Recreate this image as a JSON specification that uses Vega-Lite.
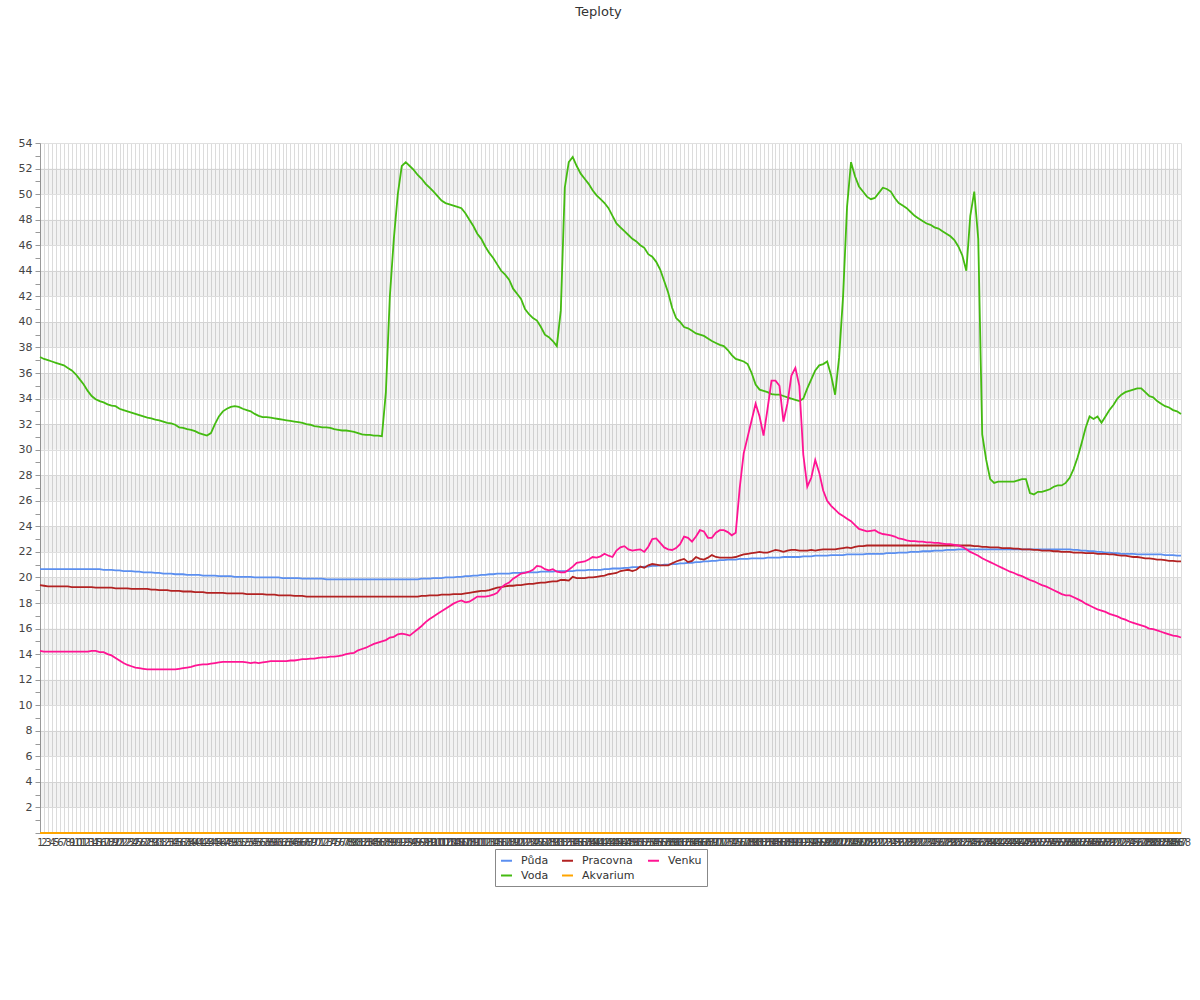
{
"$schema":"https://vega.github.io/schema/vega-lite/v6.json",
"width":1141,"height":690,
"autosize":{"type":"none"},
"padding":{"left":40,"top":143,"right":19,"bottom":167},
"background":"white",
"title":{"text":"Teploty","fontSize":13,"fontWeight":"normal","font":"DejaVu Sans","color":"#333","anchor":"middle","offset":118,"dx":-12},
"config":{"view":{"stroke":null}},
"layer":[
{"data":{"values":[{"hodnota":2,"h2":4},{"hodnota":6,"h2":8},{"hodnota":10,"h2":12},{"hodnota":14,"h2":16},{"hodnota":18,"h2":20},{"hodnota":22,"h2":24},{"hodnota":26,"h2":28},{"hodnota":30,"h2":32},{"hodnota":34,"h2":36},{"hodnota":38,"h2":40},{"hodnota":42,"h2":44},{"hodnota":46,"h2":48},{"hodnota":50,"h2":52}]},
"mark":{"type":"rect","fill":"#000","opacity":0.05},
"encoding":{"y":{"field":"hodnota","type":"quantitative","scale":{"domain":[0,54],"nice":false,"zero":true},
"axis":{"title":null,"values":[0,1,2,3,4,5,6,7,8,9,10,11,12,13,14,15,16,17,18,19,20,21,22,23,24,25,26,27,28,29,30,31,32,33,34,35,36,37,38,39,40,41,42,43,44,45,46,47,48,49,50,51,52,53,54],"labelExpr":"datum.value % 2 == 0 && datum.value > 0 ? datum.label : ''","labelOverlap":false,"labelFontSize":11,"labelFont":"DejaVu Sans","labelColor":"#444","labelPadding":3,"tickSize":5,"tickColor":"#999","domainColor":"#999","grid":true,"gridColor":"#e0e0e0","gridOpacity":{"condition":{"test":"datum.value % 2 == 1","value":0},"value":1}}},"y2":{"field":"h2"}}},
{"data":{"values":[
{"t":1,"Půda":20.65,"Voda":37.25,"Pracovna":19.4,"Akvarium":0,"Venku":14.25},
{"t":2,"Půda":20.65,"Voda":37.1,"Pracovna":19.35,"Akvarium":0,"Venku":14.2},
{"t":3,"Půda":20.65,"Voda":37.0,"Pracovna":19.3,"Akvarium":0,"Venku":14.2},
{"t":4,"Půda":20.65,"Voda":36.9,"Pracovna":19.3,"Akvarium":0,"Venku":14.2},
{"t":5,"Půda":20.65,"Voda":36.8,"Pracovna":19.3,"Akvarium":0,"Venku":14.2},
{"t":6,"Půda":20.65,"Voda":36.7,"Pracovna":19.3,"Akvarium":0,"Venku":14.2},
{"t":7,"Půda":20.65,"Voda":36.6,"Pracovna":19.3,"Akvarium":0,"Venku":14.2},
{"t":8,"Půda":20.65,"Voda":36.4,"Pracovna":19.3,"Akvarium":0,"Venku":14.2},
{"t":9,"Půda":20.65,"Voda":36.2,"Pracovna":19.25,"Akvarium":0,"Venku":14.2},
{"t":10,"Půda":20.65,"Voda":35.9,"Pracovna":19.25,"Akvarium":0,"Venku":14.2},
{"t":11,"Půda":20.65,"Voda":35.5,"Pracovna":19.25,"Akvarium":0,"Venku":14.2},
{"t":12,"Půda":20.65,"Voda":35.1,"Pracovna":19.25,"Akvarium":0,"Venku":14.2},
{"t":13,"Půda":20.65,"Voda":34.6,"Pracovna":19.25,"Akvarium":0,"Venku":14.2},
{"t":14,"Půda":20.65,"Voda":34.2,"Pracovna":19.25,"Akvarium":0,"Venku":14.25},
{"t":15,"Půda":20.65,"Voda":33.95,"Pracovna":19.2,"Akvarium":0,"Venku":14.25},
{"t":16,"Půda":20.65,"Voda":33.8,"Pracovna":19.2,"Akvarium":0,"Venku":14.15},
{"t":17,"Půda":20.6,"Voda":33.7,"Pracovna":19.2,"Akvarium":0,"Venku":14.15},
{"t":18,"Půda":20.6,"Voda":33.55,"Pracovna":19.2,"Akvarium":0,"Venku":14.0},
{"t":19,"Půda":20.6,"Voda":33.45,"Pracovna":19.2,"Akvarium":0,"Venku":13.9},
{"t":20,"Půda":20.55,"Voda":33.4,"Pracovna":19.15,"Akvarium":0,"Venku":13.7},
{"t":21,"Půda":20.55,"Voda":33.2,"Pracovna":19.15,"Akvarium":0,"Venku":13.5},
{"t":22,"Půda":20.5,"Voda":33.1,"Pracovna":19.15,"Akvarium":0,"Venku":13.3},
{"t":23,"Půda":20.5,"Voda":33.0,"Pracovna":19.15,"Akvarium":0,"Venku":13.15},
{"t":24,"Půda":20.5,"Voda":32.9,"Pracovna":19.1,"Akvarium":0,"Venku":13.05},
{"t":25,"Půda":20.45,"Voda":32.8,"Pracovna":19.1,"Akvarium":0,"Venku":12.95},
{"t":26,"Půda":20.45,"Voda":32.7,"Pracovna":19.1,"Akvarium":0,"Venku":12.9},
{"t":27,"Půda":20.4,"Voda":32.6,"Pracovna":19.1,"Akvarium":0,"Venku":12.85},
{"t":28,"Půda":20.4,"Voda":32.5,"Pracovna":19.1,"Akvarium":0,"Venku":12.8},
{"t":29,"Půda":20.4,"Voda":32.45,"Pracovna":19.05,"Akvarium":0,"Venku":12.8},
{"t":30,"Půda":20.35,"Voda":32.35,"Pracovna":19.05,"Akvarium":0,"Venku":12.8},
{"t":31,"Půda":20.35,"Voda":32.3,"Pracovna":19.0,"Akvarium":0,"Venku":12.8},
{"t":32,"Půda":20.3,"Voda":32.2,"Pracovna":19.0,"Akvarium":0,"Venku":12.8},
{"t":33,"Půda":20.3,"Voda":32.1,"Pracovna":19.0,"Akvarium":0,"Venku":12.8},
{"t":34,"Půda":20.3,"Voda":32.05,"Pracovna":18.95,"Akvarium":0,"Venku":12.8},
{"t":35,"Půda":20.25,"Voda":31.95,"Pracovna":18.95,"Akvarium":0,"Venku":12.8},
{"t":36,"Půda":20.25,"Voda":31.75,"Pracovna":18.95,"Akvarium":0,"Venku":12.85},
{"t":37,"Půda":20.25,"Voda":31.7,"Pracovna":18.9,"Akvarium":0,"Venku":12.9},
{"t":38,"Půda":20.2,"Voda":31.6,"Pracovna":18.9,"Akvarium":0,"Venku":12.95},
{"t":39,"Půda":20.2,"Voda":31.55,"Pracovna":18.9,"Akvarium":0,"Venku":13.0},
{"t":40,"Půda":20.2,"Voda":31.45,"Pracovna":18.85,"Akvarium":0,"Venku":13.1},
{"t":41,"Půda":20.2,"Voda":31.3,"Pracovna":18.85,"Akvarium":0,"Venku":13.15},
{"t":42,"Půda":20.15,"Voda":31.2,"Pracovna":18.85,"Akvarium":0,"Venku":13.2},
{"t":43,"Půda":20.15,"Voda":31.1,"Pracovna":18.8,"Akvarium":0,"Venku":13.2},
{"t":44,"Půda":20.15,"Voda":31.3,"Pracovna":18.8,"Akvarium":0,"Venku":13.25},
{"t":45,"Půda":20.15,"Voda":32.0,"Pracovna":18.8,"Akvarium":0,"Venku":13.3},
{"t":46,"Půda":20.1,"Voda":32.6,"Pracovna":18.8,"Akvarium":0,"Venku":13.35},
{"t":47,"Půda":20.1,"Voda":33.0,"Pracovna":18.8,"Akvarium":0,"Venku":13.4},
{"t":48,"Půda":20.1,"Voda":33.2,"Pracovna":18.75,"Akvarium":0,"Venku":13.4},
{"t":49,"Půda":20.1,"Voda":33.35,"Pracovna":18.75,"Akvarium":0,"Venku":13.4},
{"t":50,"Půda":20.05,"Voda":33.4,"Pracovna":18.75,"Akvarium":0,"Venku":13.4},
{"t":51,"Půda":20.05,"Voda":33.35,"Pracovna":18.75,"Akvarium":0,"Venku":13.4},
{"t":52,"Půda":20.05,"Voda":33.2,"Pracovna":18.75,"Akvarium":0,"Venku":13.4},
{"t":53,"Půda":20.05,"Voda":33.1,"Pracovna":18.7,"Akvarium":0,"Venku":13.35},
{"t":54,"Půda":20.05,"Voda":33.0,"Pracovna":18.7,"Akvarium":0,"Venku":13.3},
{"t":55,"Půda":20.0,"Voda":32.8,"Pracovna":18.7,"Akvarium":0,"Venku":13.35},
{"t":56,"Půda":20.0,"Voda":32.65,"Pracovna":18.7,"Akvarium":0,"Venku":13.3},
{"t":57,"Půda":20.0,"Voda":32.55,"Pracovna":18.7,"Akvarium":0,"Venku":13.35},
{"t":58,"Půda":20.0,"Voda":32.55,"Pracovna":18.65,"Akvarium":0,"Venku":13.4},
{"t":59,"Půda":20.0,"Voda":32.5,"Pracovna":18.65,"Akvarium":0,"Venku":13.45},
{"t":60,"Půda":20.0,"Voda":32.45,"Pracovna":18.65,"Akvarium":0,"Venku":13.45},
{"t":61,"Půda":20.0,"Voda":32.4,"Pracovna":18.6,"Akvarium":0,"Venku":13.45},
{"t":62,"Půda":19.95,"Voda":32.35,"Pracovna":18.6,"Akvarium":0,"Venku":13.45},
{"t":63,"Půda":19.95,"Voda":32.3,"Pracovna":18.6,"Akvarium":0,"Venku":13.45},
{"t":64,"Půda":19.95,"Voda":32.25,"Pracovna":18.6,"Akvarium":0,"Venku":13.5},
{"t":65,"Půda":19.95,"Voda":32.2,"Pracovna":18.55,"Akvarium":0,"Venku":13.5},
{"t":66,"Půda":19.95,"Voda":32.15,"Pracovna":18.55,"Akvarium":0,"Venku":13.55},
{"t":67,"Půda":19.9,"Voda":32.1,"Pracovna":18.55,"Akvarium":0,"Venku":13.6},
{"t":68,"Půda":19.9,"Voda":32.0,"Pracovna":18.5,"Akvarium":0,"Venku":13.6},
{"t":69,"Půda":19.9,"Voda":31.95,"Pracovna":18.5,"Akvarium":0,"Venku":13.65},
{"t":70,"Půda":19.9,"Voda":31.85,"Pracovna":18.5,"Akvarium":0,"Venku":13.65},
{"t":71,"Půda":19.9,"Voda":31.8,"Pracovna":18.5,"Akvarium":0,"Venku":13.7},
{"t":72,"Půda":19.9,"Voda":31.75,"Pracovna":18.5,"Akvarium":0,"Venku":13.75},
{"t":73,"Půda":19.85,"Voda":31.75,"Pracovna":18.5,"Akvarium":0,"Venku":13.75},
{"t":74,"Půda":19.85,"Voda":31.7,"Pracovna":18.5,"Akvarium":0,"Venku":13.8},
{"t":75,"Půda":19.85,"Voda":31.6,"Pracovna":18.5,"Akvarium":0,"Venku":13.8},
{"t":76,"Půda":19.85,"Voda":31.55,"Pracovna":18.5,"Akvarium":0,"Venku":13.85},
{"t":77,"Půda":19.85,"Voda":31.5,"Pracovna":18.5,"Akvarium":0,"Venku":13.9},
{"t":78,"Půda":19.85,"Voda":31.5,"Pracovna":18.5,"Akvarium":0,"Venku":14.0},
{"t":79,"Půda":19.85,"Voda":31.45,"Pracovna":18.5,"Akvarium":0,"Venku":14.05},
{"t":80,"Půda":19.85,"Voda":31.4,"Pracovna":18.5,"Akvarium":0,"Venku":14.1},
{"t":81,"Půda":19.85,"Voda":31.3,"Pracovna":18.5,"Akvarium":0,"Venku":14.3},
{"t":82,"Půda":19.85,"Voda":31.2,"Pracovna":18.5,"Akvarium":0,"Venku":14.4},
{"t":83,"Půda":19.85,"Voda":31.15,"Pracovna":18.5,"Akvarium":0,"Venku":14.5},
{"t":84,"Půda":19.85,"Voda":31.15,"Pracovna":18.5,"Akvarium":0,"Venku":14.65},
{"t":85,"Půda":19.85,"Voda":31.1,"Pracovna":18.5,"Akvarium":0,"Venku":14.8},
{"t":86,"Půda":19.85,"Voda":31.1,"Pracovna":18.5,"Akvarium":0,"Venku":14.9},
{"t":87,"Půda":19.85,"Voda":31.05,"Pracovna":18.5,"Akvarium":0,"Venku":15.0},
{"t":88,"Půda":19.85,"Voda":34.5,"Pracovna":18.5,"Akvarium":0,"Venku":15.1},
{"t":89,"Půda":19.85,"Voda":42.0,"Pracovna":18.5,"Akvarium":0,"Venku":15.3},
{"t":90,"Půda":19.85,"Voda":46.5,"Pracovna":18.5,"Akvarium":0,"Venku":15.35},
{"t":91,"Půda":19.85,"Voda":50.0,"Pracovna":18.5,"Akvarium":0,"Venku":15.55},
{"t":92,"Půda":19.85,"Voda":52.2,"Pracovna":18.5,"Akvarium":0,"Venku":15.6},
{"t":93,"Půda":19.85,"Voda":52.5,"Pracovna":18.5,"Akvarium":0,"Venku":15.55},
{"t":94,"Půda":19.85,"Voda":52.2,"Pracovna":18.5,"Akvarium":0,"Venku":15.45},
{"t":95,"Půda":19.85,"Voda":51.9,"Pracovna":18.5,"Akvarium":0,"Venku":15.7},
{"t":96,"Půda":19.85,"Voda":51.5,"Pracovna":18.5,"Akvarium":0,"Venku":15.95},
{"t":97,"Půda":19.9,"Voda":51.2,"Pracovna":18.55,"Akvarium":0,"Venku":16.2},
{"t":98,"Půda":19.9,"Voda":50.8,"Pracovna":18.55,"Akvarium":0,"Venku":16.5},
{"t":99,"Půda":19.9,"Voda":50.5,"Pracovna":18.6,"Akvarium":0,"Venku":16.75},
{"t":100,"Půda":19.95,"Voda":50.2,"Pracovna":18.6,"Akvarium":0,"Venku":16.95},
{"t":101,"Půda":19.95,"Voda":49.85,"Pracovna":18.6,"Akvarium":0,"Venku":17.15},
{"t":102,"Půda":19.95,"Voda":49.5,"Pracovna":18.65,"Akvarium":0,"Venku":17.35},
{"t":103,"Půda":20.0,"Voda":49.3,"Pracovna":18.65,"Akvarium":0,"Venku":17.55},
{"t":104,"Půda":20.0,"Voda":49.2,"Pracovna":18.65,"Akvarium":0,"Venku":17.75},
{"t":105,"Půda":20.0,"Voda":49.1,"Pracovna":18.7,"Akvarium":0,"Venku":17.95},
{"t":106,"Půda":20.05,"Voda":49.0,"Pracovna":18.7,"Akvarium":0,"Venku":18.1},
{"t":107,"Půda":20.05,"Voda":48.9,"Pracovna":18.7,"Akvarium":0,"Venku":18.2},
{"t":108,"Půda":20.1,"Voda":48.5,"Pracovna":18.75,"Akvarium":0,"Venku":18.05},
{"t":109,"Půda":20.1,"Voda":48.0,"Pracovna":18.8,"Akvarium":0,"Venku":18.1},
{"t":110,"Půda":20.15,"Voda":47.5,"Pracovna":18.85,"Akvarium":0,"Venku":18.3},
{"t":111,"Půda":20.15,"Voda":46.9,"Pracovna":18.9,"Akvarium":0,"Venku":18.5},
{"t":112,"Půda":20.2,"Voda":46.5,"Pracovna":18.95,"Akvarium":0,"Venku":18.5},
{"t":113,"Půda":20.2,"Voda":45.9,"Pracovna":18.95,"Akvarium":0,"Venku":18.5},
{"t":114,"Půda":20.25,"Voda":45.4,"Pracovna":19.0,"Akvarium":0,"Venku":18.55},
{"t":115,"Půda":20.25,"Voda":45.0,"Pracovna":19.1,"Akvarium":0,"Venku":18.65},
{"t":116,"Půda":20.3,"Voda":44.5,"Pracovna":19.2,"Akvarium":0,"Venku":18.8},
{"t":117,"Půda":20.3,"Voda":44.0,"Pracovna":19.25,"Akvarium":0,"Venku":19.2},
{"t":118,"Půda":20.3,"Voda":43.7,"Pracovna":19.3,"Akvarium":0,"Venku":19.45},
{"t":119,"Půda":20.3,"Voda":43.3,"Pracovna":19.35,"Akvarium":0,"Venku":19.6},
{"t":120,"Půda":20.35,"Voda":42.6,"Pracovna":19.35,"Akvarium":0,"Venku":19.9},
{"t":121,"Půda":20.35,"Voda":42.2,"Pracovna":19.4,"Akvarium":0,"Venku":20.1},
{"t":122,"Půda":20.35,"Voda":41.8,"Pracovna":19.4,"Akvarium":0,"Venku":20.3},
{"t":123,"Půda":20.4,"Voda":41.0,"Pracovna":19.45,"Akvarium":0,"Venku":20.35},
{"t":124,"Půda":20.4,"Voda":40.6,"Pracovna":19.5,"Akvarium":0,"Venku":20.45},
{"t":125,"Půda":20.4,"Voda":40.3,"Pracovna":19.5,"Akvarium":0,"Venku":20.6},
{"t":126,"Půda":20.4,"Voda":40.1,"Pracovna":19.55,"Akvarium":0,"Venku":20.9},
{"t":127,"Půda":20.45,"Voda":39.6,"Pracovna":19.6,"Akvarium":0,"Venku":20.85},
{"t":128,"Půda":20.45,"Voda":39.0,"Pracovna":19.6,"Akvarium":0,"Venku":20.65},
{"t":129,"Půda":20.45,"Voda":38.8,"Pracovna":19.65,"Akvarium":0,"Venku":20.55},
{"t":130,"Půda":20.45,"Voda":38.5,"Pracovna":19.7,"Akvarium":0,"Venku":20.65},
{"t":131,"Půda":20.5,"Voda":38.1,"Pracovna":19.7,"Akvarium":0,"Venku":20.45},
{"t":132,"Půda":20.5,"Voda":40.9,"Pracovna":19.8,"Akvarium":0,"Venku":20.4},
{"t":133,"Půda":20.5,"Voda":50.5,"Pracovna":19.8,"Akvarium":0,"Venku":20.4},
{"t":134,"Půda":20.5,"Voda":52.5,"Pracovna":19.75,"Akvarium":0,"Venku":20.6},
{"t":135,"Půda":20.5,"Voda":52.9,"Pracovna":20.05,"Akvarium":0,"Venku":20.85},
{"t":136,"Půda":20.55,"Voda":52.2,"Pracovna":19.95,"Akvarium":0,"Venku":21.15},
{"t":137,"Půda":20.55,"Voda":51.6,"Pracovna":19.95,"Akvarium":0,"Venku":21.2},
{"t":138,"Půda":20.55,"Voda":51.2,"Pracovna":19.95,"Akvarium":0,"Venku":21.25},
{"t":139,"Půda":20.6,"Voda":50.8,"Pracovna":20.0,"Akvarium":0,"Venku":21.4},
{"t":140,"Půda":20.6,"Voda":50.3,"Pracovna":20.0,"Akvarium":0,"Venku":21.6},
{"t":141,"Půda":20.6,"Voda":49.9,"Pracovna":20.05,"Akvarium":0,"Venku":21.55},
{"t":142,"Půda":20.6,"Voda":49.6,"Pracovna":20.1,"Akvarium":0,"Venku":21.65},
{"t":143,"Půda":20.65,"Voda":49.3,"Pracovna":20.15,"Akvarium":0,"Venku":21.85},
{"t":144,"Půda":20.65,"Voda":48.9,"Pracovna":20.25,"Akvarium":0,"Venku":21.7},
{"t":145,"Půda":20.7,"Voda":48.3,"Pracovna":20.3,"Akvarium":0,"Venku":21.6},
{"t":146,"Půda":20.7,"Voda":47.7,"Pracovna":20.35,"Akvarium":0,"Venku":22.1},
{"t":147,"Půda":20.7,"Voda":47.4,"Pracovna":20.5,"Akvarium":0,"Venku":22.35},
{"t":148,"Půda":20.75,"Voda":47.1,"Pracovna":20.55,"Akvarium":0,"Venku":22.45},
{"t":149,"Půda":20.75,"Voda":46.8,"Pracovna":20.6,"Akvarium":0,"Venku":22.2},
{"t":150,"Půda":20.8,"Voda":46.5,"Pracovna":20.5,"Akvarium":0,"Venku":22.1},
{"t":151,"Půda":20.8,"Voda":46.3,"Pracovna":20.6,"Akvarium":0,"Venku":22.15},
{"t":152,"Půda":20.8,"Voda":46.0,"Pracovna":20.85,"Akvarium":0,"Venku":22.2},
{"t":153,"Půda":20.85,"Voda":45.8,"Pracovna":20.75,"Akvarium":0,"Venku":22.0},
{"t":154,"Půda":20.85,"Voda":45.3,"Pracovna":20.95,"Akvarium":0,"Venku":22.4},
{"t":155,"Půda":20.9,"Voda":45.1,"Pracovna":21.05,"Akvarium":0,"Venku":23.0},
{"t":156,"Půda":20.9,"Voda":44.7,"Pracovna":21.0,"Akvarium":0,"Venku":23.05},
{"t":157,"Půda":20.95,"Voda":44.1,"Pracovna":20.95,"Akvarium":0,"Venku":22.7},
{"t":158,"Půda":21.0,"Voda":43.2,"Pracovna":20.95,"Akvarium":0,"Venku":22.35},
{"t":159,"Půda":21.0,"Voda":42.3,"Pracovna":20.95,"Akvarium":0,"Venku":22.2},
{"t":160,"Půda":21.05,"Voda":41.1,"Pracovna":21.1,"Akvarium":0,"Venku":22.15},
{"t":161,"Půda":21.05,"Voda":40.3,"Pracovna":21.25,"Akvarium":0,"Venku":22.3},
{"t":162,"Půda":21.1,"Voda":40.0,"Pracovna":21.35,"Akvarium":0,"Venku":22.6},
{"t":163,"Půda":21.1,"Voda":39.6,"Pracovna":21.45,"Akvarium":0,"Venku":23.2},
{"t":164,"Půda":21.15,"Voda":39.5,"Pracovna":21.2,"Akvarium":0,"Venku":23.1},
{"t":165,"Půda":21.15,"Voda":39.3,"Pracovna":21.3,"Akvarium":0,"Venku":22.8},
{"t":166,"Půda":21.2,"Voda":39.1,"Pracovna":21.6,"Akvarium":0,"Venku":23.2},
{"t":167,"Půda":21.2,"Voda":39.0,"Pracovna":21.45,"Akvarium":0,"Venku":23.7},
{"t":168,"Půda":21.25,"Voda":38.9,"Pracovna":21.4,"Akvarium":0,"Venku":23.6},
{"t":169,"Půda":21.25,"Voda":38.7,"Pracovna":21.55,"Akvarium":0,"Venku":23.1},
{"t":170,"Půda":21.3,"Voda":38.5,"Pracovna":21.75,"Akvarium":0,"Venku":23.1},
{"t":171,"Půda":21.3,"Voda":38.35,"Pracovna":21.6,"Akvarium":0,"Venku":23.5},
{"t":172,"Půda":21.35,"Voda":38.2,"Pracovna":21.55,"Akvarium":0,"Venku":23.7},
{"t":173,"Půda":21.35,"Voda":38.1,"Pracovna":21.55,"Akvarium":0,"Venku":23.7},
{"t":174,"Půda":21.4,"Voda":37.8,"Pracovna":21.55,"Akvarium":0,"Venku":23.55},
{"t":175,"Půda":21.4,"Voda":37.4,"Pracovna":21.55,"Akvarium":0,"Venku":23.3},
{"t":176,"Půda":21.4,"Voda":37.1,"Pracovna":21.6,"Akvarium":0,"Venku":23.5},
{"t":177,"Půda":21.45,"Voda":37.0,"Pracovna":21.7,"Akvarium":0,"Venku":27.0},
{"t":178,"Půda":21.45,"Voda":36.9,"Pracovna":21.8,"Akvarium":0,"Venku":29.7},
{"t":179,"Půda":21.45,"Voda":36.7,"Pracovna":21.85,"Akvarium":0,"Venku":31.0},
{"t":180,"Půda":21.5,"Voda":36.0,"Pracovna":21.9,"Akvarium":0,"Venku":32.3},
{"t":181,"Půda":21.5,"Voda":35.1,"Pracovna":21.95,"Akvarium":0,"Venku":33.6},
{"t":182,"Půda":21.5,"Voda":34.7,"Pracovna":22.0,"Akvarium":0,"Venku":32.6},
{"t":183,"Půda":21.5,"Voda":34.6,"Pracovna":21.95,"Akvarium":0,"Venku":31.1},
{"t":184,"Půda":21.55,"Voda":34.5,"Pracovna":21.95,"Akvarium":0,"Venku":33.2},
{"t":185,"Půda":21.55,"Voda":34.35,"Pracovna":22.05,"Akvarium":0,"Venku":35.4},
{"t":186,"Půda":21.55,"Voda":34.3,"Pracovna":22.15,"Akvarium":0,"Venku":35.4},
{"t":187,"Půda":21.55,"Voda":34.3,"Pracovna":22.1,"Akvarium":0,"Venku":35.0},
{"t":188,"Půda":21.6,"Voda":34.2,"Pracovna":22.0,"Akvarium":0,"Venku":32.2},
{"t":189,"Půda":21.6,"Voda":34.1,"Pracovna":22.1,"Akvarium":0,"Venku":33.6},
{"t":190,"Půda":21.6,"Voda":34.0,"Pracovna":22.15,"Akvarium":0,"Venku":35.8},
{"t":191,"Půda":21.6,"Voda":33.9,"Pracovna":22.15,"Akvarium":0,"Venku":36.4},
{"t":192,"Půda":21.6,"Voda":33.8,"Pracovna":22.1,"Akvarium":0,"Venku":35.0},
{"t":193,"Půda":21.65,"Voda":34.0,"Pracovna":22.1,"Akvarium":0,"Venku":29.6},
{"t":194,"Půda":21.65,"Voda":34.8,"Pracovna":22.1,"Akvarium":0,"Venku":27.1},
{"t":195,"Půda":21.65,"Voda":35.5,"Pracovna":22.15,"Akvarium":0,"Venku":27.8},
{"t":196,"Půda":21.7,"Voda":36.2,"Pracovna":22.1,"Akvarium":0,"Venku":29.2},
{"t":197,"Půda":21.7,"Voda":36.6,"Pracovna":22.15,"Akvarium":0,"Venku":28.2},
{"t":198,"Půda":21.7,"Voda":36.7,"Pracovna":22.2,"Akvarium":0,"Venku":26.8},
{"t":199,"Půda":21.7,"Voda":36.9,"Pracovna":22.2,"Akvarium":0,"Venku":26.0},
{"t":200,"Půda":21.75,"Voda":35.8,"Pracovna":22.2,"Akvarium":0,"Venku":25.6},
{"t":201,"Půda":21.75,"Voda":34.3,"Pracovna":22.2,"Akvarium":0,"Venku":25.3},
{"t":202,"Půda":21.75,"Voda":37.2,"Pracovna":22.25,"Akvarium":0,"Venku":25.0},
{"t":203,"Půda":21.75,"Voda":42.0,"Pracovna":22.3,"Akvarium":0,"Venku":24.8},
{"t":204,"Půda":21.8,"Voda":49.0,"Pracovna":22.35,"Akvarium":0,"Venku":24.6},
{"t":205,"Půda":21.8,"Voda":52.5,"Pracovna":22.3,"Akvarium":0,"Venku":24.4},
{"t":206,"Půda":21.8,"Voda":51.4,"Pracovna":22.4,"Akvarium":0,"Venku":24.1},
{"t":207,"Půda":21.8,"Voda":50.6,"Pracovna":22.45,"Akvarium":0,"Venku":23.8},
{"t":208,"Půda":21.8,"Voda":50.2,"Pracovna":22.45,"Akvarium":0,"Venku":23.7},
{"t":209,"Půda":21.85,"Voda":49.8,"Pracovna":22.5,"Akvarium":0,"Venku":23.6},
{"t":210,"Půda":21.85,"Voda":49.6,"Pracovna":22.5,"Akvarium":0,"Venku":23.65},
{"t":211,"Půda":21.85,"Voda":49.7,"Pracovna":22.5,"Akvarium":0,"Venku":23.7},
{"t":212,"Půda":21.85,"Voda":50.1,"Pracovna":22.5,"Akvarium":0,"Venku":23.5},
{"t":213,"Půda":21.85,"Voda":50.5,"Pracovna":22.5,"Akvarium":0,"Venku":23.4},
{"t":214,"Půda":21.9,"Voda":50.4,"Pracovna":22.5,"Akvarium":0,"Venku":23.35},
{"t":215,"Půda":21.9,"Voda":50.2,"Pracovna":22.5,"Akvarium":0,"Venku":23.3},
{"t":216,"Půda":21.9,"Voda":49.7,"Pracovna":22.5,"Akvarium":0,"Venku":23.2},
{"t":217,"Půda":21.95,"Voda":49.3,"Pracovna":22.5,"Akvarium":0,"Venku":23.05},
{"t":218,"Půda":21.95,"Voda":49.1,"Pracovna":22.5,"Akvarium":0,"Venku":23.0},
{"t":219,"Půda":21.95,"Voda":48.9,"Pracovna":22.5,"Akvarium":0,"Venku":22.9},
{"t":220,"Půda":22.0,"Voda":48.6,"Pracovna":22.5,"Akvarium":0,"Venku":22.85},
{"t":221,"Půda":22.0,"Voda":48.3,"Pracovna":22.5,"Akvarium":0,"Venku":22.85},
{"t":222,"Půda":22.0,"Voda":48.1,"Pracovna":22.5,"Akvarium":0,"Venku":22.8},
{"t":223,"Půda":22.05,"Voda":47.9,"Pracovna":22.5,"Akvarium":0,"Venku":22.8},
{"t":224,"Půda":22.05,"Voda":47.7,"Pracovna":22.5,"Akvarium":0,"Venku":22.75},
{"t":225,"Půda":22.05,"Voda":47.6,"Pracovna":22.5,"Akvarium":0,"Venku":22.75},
{"t":226,"Půda":22.1,"Voda":47.4,"Pracovna":22.5,"Akvarium":0,"Venku":22.7},
{"t":227,"Půda":22.1,"Voda":47.3,"Pracovna":22.5,"Akvarium":0,"Venku":22.7},
{"t":228,"Půda":22.1,"Voda":47.1,"Pracovna":22.5,"Akvarium":0,"Venku":22.65},
{"t":229,"Půda":22.15,"Voda":46.9,"Pracovna":22.5,"Akvarium":0,"Venku":22.6},
{"t":230,"Půda":22.15,"Voda":46.7,"Pracovna":22.5,"Akvarium":0,"Venku":22.6},
{"t":231,"Půda":22.15,"Voda":46.4,"Pracovna":22.5,"Akvarium":0,"Venku":22.55},
{"t":232,"Půda":22.2,"Voda":45.9,"Pracovna":22.5,"Akvarium":0,"Venku":22.5},
{"t":233,"Půda":22.2,"Voda":45.2,"Pracovna":22.5,"Akvarium":0,"Venku":22.4},
{"t":234,"Půda":22.2,"Voda":44.0,"Pracovna":22.5,"Akvarium":0,"Venku":22.2},
{"t":235,"Půda":22.2,"Voda":48.3,"Pracovna":22.5,"Akvarium":0,"Venku":22.0},
{"t":236,"Půda":22.2,"Voda":50.2,"Pracovna":22.45,"Akvarium":0,"Venku":21.85},
{"t":237,"Půda":22.2,"Voda":46.5,"Pracovna":22.45,"Akvarium":0,"Venku":21.7},
{"t":238,"Půda":22.2,"Voda":31.2,"Pracovna":22.4,"Akvarium":0,"Venku":21.5},
{"t":239,"Půda":22.2,"Voda":29.2,"Pracovna":22.4,"Akvarium":0,"Venku":21.35},
{"t":240,"Půda":22.2,"Voda":27.7,"Pracovna":22.35,"Akvarium":0,"Venku":21.2},
{"t":241,"Půda":22.2,"Voda":27.4,"Pracovna":22.35,"Akvarium":0,"Venku":21.05},
{"t":242,"Půda":22.2,"Voda":27.5,"Pracovna":22.35,"Akvarium":0,"Venku":20.9},
{"t":243,"Půda":22.2,"Voda":27.5,"Pracovna":22.3,"Akvarium":0,"Venku":20.75},
{"t":244,"Půda":22.2,"Voda":27.5,"Pracovna":22.3,"Akvarium":0,"Venku":20.6},
{"t":245,"Půda":22.2,"Voda":27.5,"Pracovna":22.3,"Akvarium":0,"Venku":20.45},
{"t":246,"Půda":22.2,"Voda":27.5,"Pracovna":22.25,"Akvarium":0,"Venku":20.35},
{"t":247,"Půda":22.2,"Voda":27.6,"Pracovna":22.25,"Akvarium":0,"Venku":20.2},
{"t":248,"Půda":22.2,"Voda":27.7,"Pracovna":22.2,"Akvarium":0,"Venku":20.1},
{"t":249,"Půda":22.2,"Voda":27.7,"Pracovna":22.2,"Akvarium":0,"Venku":19.95},
{"t":250,"Půda":22.2,"Voda":26.6,"Pracovna":22.2,"Akvarium":0,"Venku":19.8},
{"t":251,"Půda":22.2,"Voda":26.5,"Pracovna":22.15,"Akvarium":0,"Venku":19.7},
{"t":252,"Půda":22.2,"Voda":26.7,"Pracovna":22.15,"Akvarium":0,"Venku":19.55},
{"t":253,"Půda":22.2,"Voda":26.7,"Pracovna":22.1,"Akvarium":0,"Venku":19.4},
{"t":254,"Půda":22.2,"Voda":26.8,"Pracovna":22.1,"Akvarium":0,"Venku":19.3},
{"t":255,"Půda":22.2,"Voda":26.9,"Pracovna":22.1,"Akvarium":0,"Venku":19.15},
{"t":256,"Půda":22.2,"Voda":27.1,"Pracovna":22.05,"Akvarium":0,"Venku":19.0},
{"t":257,"Půda":22.2,"Voda":27.2,"Pracovna":22.05,"Akvarium":0,"Venku":18.85},
{"t":258,"Půda":22.2,"Voda":27.2,"Pracovna":22.0,"Akvarium":0,"Venku":18.7},
{"t":259,"Půda":22.2,"Voda":27.4,"Pracovna":22.0,"Akvarium":0,"Venku":18.6},
{"t":260,"Půda":22.2,"Voda":27.8,"Pracovna":22.0,"Akvarium":0,"Venku":18.6},
{"t":261,"Půda":22.15,"Voda":28.5,"Pracovna":21.95,"Akvarium":0,"Venku":18.45},
{"t":262,"Půda":22.15,"Voda":29.4,"Pracovna":21.95,"Akvarium":0,"Venku":18.3},
{"t":263,"Půda":22.1,"Voda":30.5,"Pracovna":21.95,"Akvarium":0,"Venku":18.15},
{"t":264,"Půda":22.1,"Voda":31.7,"Pracovna":21.9,"Akvarium":0,"Venku":17.95},
{"t":265,"Půda":22.05,"Voda":32.6,"Pracovna":21.9,"Akvarium":0,"Venku":17.8},
{"t":266,"Půda":22.05,"Voda":32.4,"Pracovna":21.9,"Akvarium":0,"Venku":17.65},
{"t":267,"Půda":22.0,"Voda":32.6,"Pracovna":21.85,"Akvarium":0,"Venku":17.5},
{"t":268,"Půda":22.0,"Voda":32.1,"Pracovna":21.85,"Akvarium":0,"Venku":17.4},
{"t":269,"Půda":21.95,"Voda":32.6,"Pracovna":21.85,"Akvarium":0,"Venku":17.3},
{"t":270,"Půda":21.95,"Voda":33.1,"Pracovna":21.8,"Akvarium":0,"Venku":17.15},
{"t":271,"Půda":21.9,"Voda":33.5,"Pracovna":21.8,"Akvarium":0,"Venku":17.05},
{"t":272,"Půda":21.9,"Voda":34.0,"Pracovna":21.75,"Akvarium":0,"Venku":16.95},
{"t":273,"Půda":21.85,"Voda":34.3,"Pracovna":21.7,"Akvarium":0,"Venku":16.8},
{"t":274,"Půda":21.85,"Voda":34.5,"Pracovna":21.7,"Akvarium":0,"Venku":16.7},
{"t":275,"Půda":21.85,"Voda":34.6,"Pracovna":21.65,"Akvarium":0,"Venku":16.55},
{"t":276,"Půda":21.85,"Voda":34.7,"Pracovna":21.6,"Akvarium":0,"Venku":16.45},
{"t":277,"Půda":21.8,"Voda":34.8,"Pracovna":21.6,"Akvarium":0,"Venku":16.35},
{"t":278,"Půda":21.8,"Voda":34.8,"Pracovna":21.55,"Akvarium":0,"Venku":16.25},
{"t":279,"Půda":21.8,"Voda":34.5,"Pracovna":21.5,"Akvarium":0,"Venku":16.15},
{"t":280,"Půda":21.8,"Voda":34.2,"Pracovna":21.5,"Akvarium":0,"Venku":16.0},
{"t":281,"Půda":21.8,"Voda":34.1,"Pracovna":21.45,"Akvarium":0,"Venku":15.95},
{"t":282,"Půda":21.8,"Voda":33.8,"Pracovna":21.4,"Akvarium":0,"Venku":15.85},
{"t":283,"Půda":21.8,"Voda":33.6,"Pracovna":21.4,"Akvarium":0,"Venku":15.75},
{"t":284,"Půda":21.75,"Voda":33.4,"Pracovna":21.35,"Akvarium":0,"Venku":15.65},
{"t":285,"Půda":21.75,"Voda":33.3,"Pracovna":21.3,"Akvarium":0,"Venku":15.55},
{"t":286,"Půda":21.75,"Voda":33.1,"Pracovna":21.3,"Akvarium":0,"Venku":15.45},
{"t":287,"Půda":21.7,"Voda":33.0,"Pracovna":21.25,"Akvarium":0,"Venku":15.4},
{"t":288,"Půda":21.7,"Voda":32.8,"Pracovna":21.25,"Akvarium":0,"Venku":15.3}
]},
"transform":[{"fold":["Půda","Voda","Pracovna","Akvarium","Venku"],"as":["serie","hodnota"]}],
"mark":{"type":"line","strokeWidth":1.8,"clip":false},
"encoding":{
"x":{"field":"t","type":"ordinal","sort":"ascending","scale":{"type":"point","padding":0},
"axis":{"title":null,"labelAngle":0,"labelOverlap":false,"labelFontSize":10,"labelFont":"DejaVu Sans","labelColor":"#444","labelPadding":4,"grid":true,"gridColor":"#dcdcdc","ticks":false,"domain":false}},
"y":{"field":"hodnota","type":"quantitative","scale":{"domain":[0,54],"nice":false,"zero":true},
"axis":{"title":null,"values":[0,1,2,3,4,5,6,7,8,9,10,11,12,13,14,15,16,17,18,19,20,21,22,23,24,25,26,27,28,29,30,31,32,33,34,35,36,37,38,39,40,41,42,43,44,45,46,47,48,49,50,51,52,53,54],"labelExpr":"datum.value % 2 == 0 && datum.value > 0 ? datum.label : ''","labelOverlap":false,"labelFontSize":11,"labelFont":"DejaVu Sans","labelColor":"#444","labelPadding":3,"tickSize":5,"tickColor":"#999","domainColor":"#999","grid":true,"gridColor":"#e0e0e0","gridOpacity":{"condition":{"test":"datum.value % 2 == 1","value":0},"value":1}}},
"color":{"field":"serie","type":"nominal","scale":{"domain":["Půda","Voda","Pracovna","Akvarium","Venku"],"range":["#5b8ff0","#44bb11","#b22222","#ffa500","#ff1493"]},
"legend":{"orient":"none","legendX":455,"legendY":706,"columns":3,"title":null,"symbolType":"stroke","symbolStrokeWidth":2,"symbolSize":120,"labelFontSize":11,"labelFont":"DejaVu Sans","labelColor":"#333","labelOffset":8,"strokeColor":"#888","fillColor":"white","padding":5,"columnPadding":9,"rowPadding":3}}
}}
]
}
